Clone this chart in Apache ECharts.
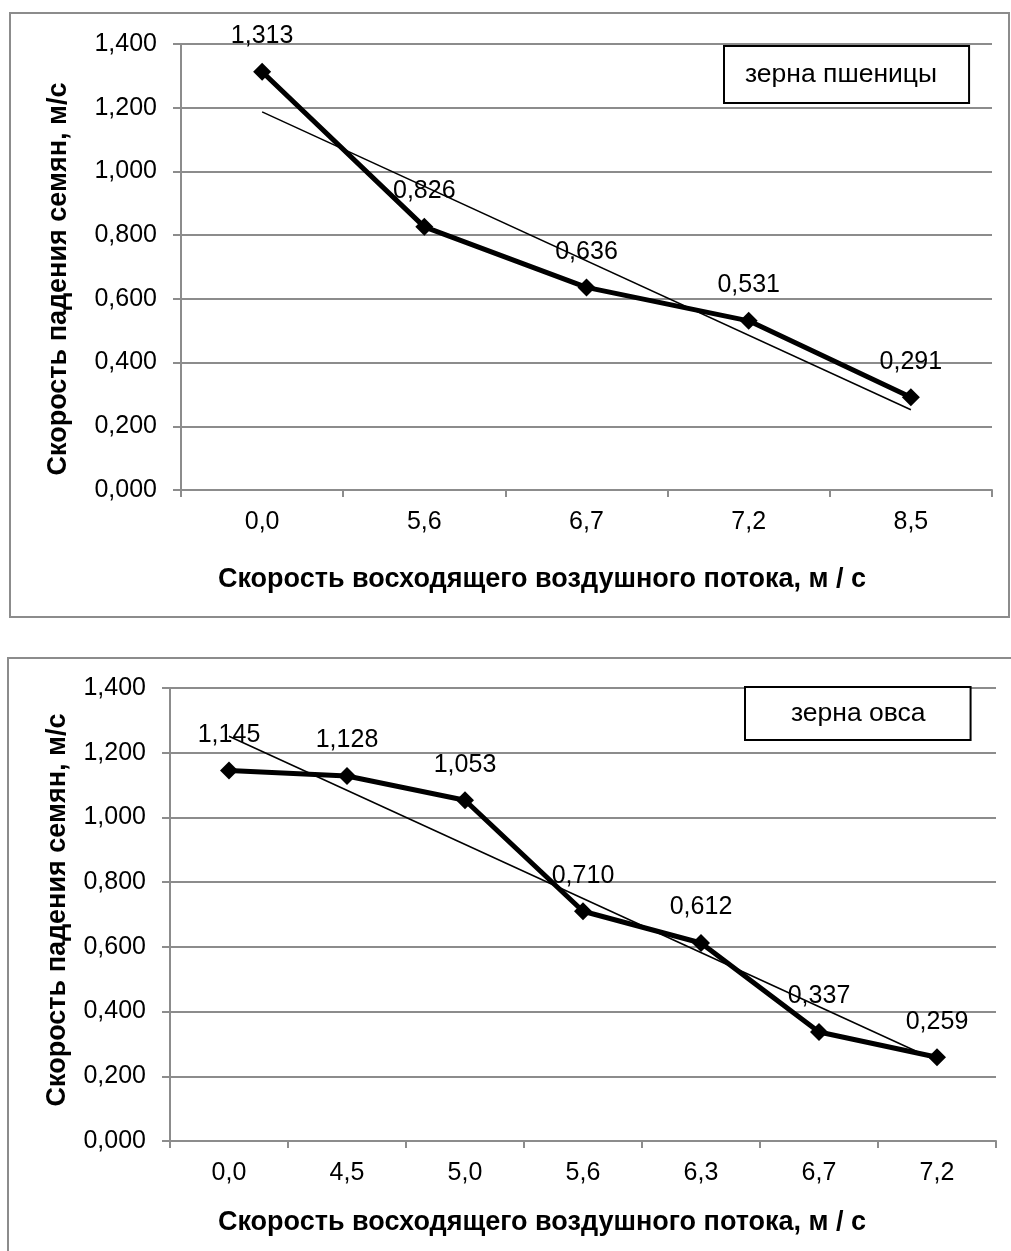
<!DOCTYPE html>
<html>
<head>
<meta charset="utf-8">
<script src="https://cdn.jsdelivr.net/npm/echarts@6/dist/echarts.min.js"></script>
<style>
  html, body { margin: 0; padding: 0; background: #fff; }
  #chart { width: 1011px; height: 1251px; }
</style>
</head>
<body>
<div id="chart"></div>
<script>
var myChart = echarts.init(document.getElementById('chart'));

// верхний график — пшеница
var wheatX = ['0,0', '5,6', '6,7', '7,2', '8,5'];
var wheatY = [1.313, 0.826, 0.636, 0.531, 0.291];
var wheatTrend = [1.187, 0.252]; // линия тренда: начало и конец

// нижний график — овёс
var oatX = ['0,0', '4,5', '5,0', '5,6', '6,3', '6,7', '7,2'];
var oatY = [1.145, 1.128, 1.053, 0.710, 0.612, 0.337, 0.259];
var oatTrend = [1.251, 0.248];

var yTicks = { min: 0, max: 1.4, interval: 0.2 };

var xTitle = 'Скорость восходящего воздушного потока, м / с';
var yTitle = 'Скорость падения семян, м/с';
var font = 'Liberation Sans, Arial, sans-serif';
var grey = '#8c8c8c';

function comma3(v) {
    return Number(v).toFixed(3).replace('.', ',');
}

function yAxisCfg(gridIndex) {
    return {
        gridIndex: gridIndex,
        type: 'value',
        min: yTicks.min,
        max: yTicks.max,
        interval: yTicks.interval,
        axisLine: { show: true, lineStyle: { color: grey, width: 2 } },
        axisTick: { show: true, length: 8, lineStyle: { color: grey, width: 2 } },
        axisLabel: {
            color: '#000', fontSize: 25, fontFamily: font, margin: 24,
            formatter: comma3
        },
        splitLine: { show: true, lineStyle: { color: grey, width: 2 } }
    };
}

function xAxisCfg(gridIndex, data) {
    return {
        gridIndex: gridIndex,
        type: 'category',
        data: data,
        boundaryGap: true,
        axisLine: { show: true, lineStyle: { color: grey, width: 2 } },
        axisTick: { show: true, length: 7, alignWithLabel: false, lineStyle: { color: grey, width: 2 } },
        axisLabel: { color: '#000', fontSize: 25, fontFamily: font, margin: 20 }
    };
}

function mainSeries(name, idx, data) {
    return {
        name: name,
        type: 'line',
        xAxisIndex: idx,
        yAxisIndex: idx,
        data: data,
        symbol: 'diamond',
        symbolSize: 18,
        z: 3,
        lineStyle: { color: '#000', width: 5 },
        itemStyle: { color: '#000' },
        label: {
            show: true,
            position: 'top',
            distance: 14,
            color: '#000',
            fontSize: 25,
            fontFamily: font,
            formatter: function (p) { return comma3(p.value); }
        }
    };
}

function trendSeries(idx, last, ends) {
    return {
        name: 'тренд' + idx,
        type: 'line',
        xAxisIndex: idx,
        yAxisIndex: idx,
        data: [[0, ends[0]], [last, ends[1]]],
        symbol: 'none',
        z: 4,
        lineStyle: { color: '#000', width: 1.5 },
        silent: true
    };
}

function legendCfg(name, left, top, pad) {
    return {
        data: [name],
        left: left,
        top: top,
        icon: 'rect',
        itemWidth: 0,
        itemHeight: 25,
        itemGap: 0,
        padding: pad,
        borderColor: '#000',
        borderWidth: 2,
        backgroundColor: '#fff',
        selectedMode: false,
        textStyle: { color: '#000', fontSize: 26.5, fontFamily: font }
    };
}

function titleText(text, x, y, rotate) {
    return {
        type: 'text', x: x, y: y, rotation: rotate ? Math.PI / 2 : 0,
        style: { text: text, fill: '#000', font: 'bold 27px ' + font, textAlign: 'center', textVerticalAlign: 'middle' }
    };
}

var option = {
    animation: false,
    backgroundColor: '#fff',
    grid: [
        { left: 181, top: 44, right: 19, bottom: 761 },
        { left: 170, top: 688, right: 15, bottom: 110 }
    ],
    xAxis: [xAxisCfg(0, wheatX), xAxisCfg(1, oatX)],
    yAxis: [yAxisCfg(0), yAxisCfg(1)],
    legend: [
        legendCfg('зерна пшеницы', 724, 46, [15, 32, 15, 16]),
        legendCfg('зерна овса', 745, 687, [13, 45, 13, 41])
    ],
    graphic: [
        { type: 'rect', shape: { x: 10, y: 13, width: 999, height: 604 },
          style: { fill: 'none', stroke: grey, lineWidth: 2 }, silent: true },
        { type: 'rect', shape: { x: 8, y: 658, width: 1010, height: 600 },
          style: { fill: 'none', stroke: grey, lineWidth: 2 }, silent: true },
        titleText(xTitle, 542, 580, false),
        titleText(xTitle, 542, 1223, false),
        titleText(yTitle, 59, 279, true),
        titleText(yTitle, 58, 910, true)
    ],
    series: [
        mainSeries('зерна пшеницы', 0, wheatY),
        trendSeries(0, wheatX.length - 1, wheatTrend),
        mainSeries('зерна овса', 1, oatY),
        trendSeries(1, oatX.length - 1, oatTrend)
    ]
};

myChart.setOption(option);
</script>
</body>
</html>
